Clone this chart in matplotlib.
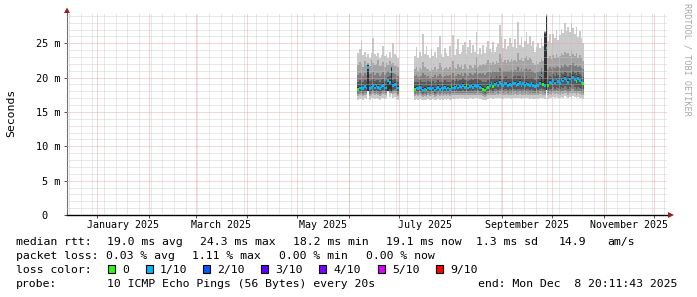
import numpy as np
import matplotlib
matplotlib.use("Agg")
import matplotlib.pyplot as plt
import matplotlib.dates as mdates
from matplotlib.patches import Rectangle, Polygon

W, H = 697, 297
plt.rcParams["font.family"] = "DejaVu Sans Mono"
plt.rcParams["font.size"] = 8.25

# time window of the graph (360 days ending at the "end:" stamp)
t_start = np.datetime64("2024-12-13T20:11:43")
t_end = np.datetime64("2025-12-08T20:11:43")

# two stretches of data, one value per day
seg_starts = ["2025-06-06", "2025-07-10"]
seg_lengths = [25, 102]

# ping quantiles in ms (p1 lowest .. p10 highest), median and lost pings out of 10
p10 = [
    23.6, 24.2, 25.4, 23.3, 23.8, 23.0, 23.5, 22.9, 23.6, 25.8, 23.4, 23.1, 23.6,
    22.8, 23.3, 24.6, 23.2, 23.5, 22.9, 23.7, 22.8, 25.0, 23.4, 23.1, 22.8,
    23.2, 24.4, 22.9, 23.8, 23.1, 26.4, 23.5, 24.6, 23.3, 22.8,
    24.1, 23.1, 23.7, 22.9, 24.5, 26.0, 23.5, 23.0, 24.3, 23.6,
    23.1, 24.6, 22.9, 26.2, 23.3, 24.2, 25.6, 23.4, 23.7, 24.8,
    25.2, 23.5, 24.4, 25.5, 23.6, 24.7, 23.8, 26.6, 23.4, 24.3,
    23.5, 24.8, 23.6, 24.5, 25.4, 24.1, 23.7, 25.2, 23.8, 24.4,
    24.9, 27.6, 25.9, 24.3, 25.6, 24.1, 24.6, 25.8, 25.0, 24.4,
    25.6, 24.3, 28.1, 24.7, 25.9, 24.5, 25.3, 26.6, 24.9, 26.0,
    24.6, 25.4, 23.8, 24.5, 25.1, 24.3, 25.8, 24.6, 26.8, 29.3,
    25.4, 26.3, 25.1, 26.4, 25.8, 26.9, 25.5, 26.2, 27.1, 26.5,
    27.9, 26.8, 27.4, 26.6, 28.0, 27.2, 26.4, 27.3, 25.9, 26.8,
    25.7, 25.0,
]
p9 = [
    21.8, 22.3, 22.0, 21.6, 22.4, 21.9, 22.1, 21.7, 22.5, 22.2, 21.8, 22.0, 22.6,
    21.7, 21.9, 22.3, 21.6, 22.1, 21.8, 22.4, 22.0, 22.2, 21.7, 21.9, 21.5,
    21.2, 21.5, 21.0, 21.4, 21.1, 22.3, 21.6, 21.2, 21.3, 20.9,
    21.4, 21.1, 21.6, 21.0, 21.3, 22.2, 21.5, 21.1, 21.4, 21.6,
    21.3, 21.5, 21.1, 22.4, 21.4, 21.2, 22.0, 21.5, 21.8, 21.3,
    22.0, 21.6, 21.3, 21.9, 21.7, 21.4, 21.9, 23.0, 21.6, 21.8,
    21.7, 22.0, 21.8, 22.1, 22.5, 22.2, 21.9, 22.3, 22.0, 22.4,
    22.2, 23.4, 22.8, 22.3, 22.6, 22.2, 22.5, 22.3, 22.7, 22.4,
    22.6, 22.3, 23.6, 22.5, 22.8, 22.4, 22.9, 23.2, 22.6, 22.8,
    22.5, 22.2, 21.9, 22.4, 22.0, 22.3, 22.7, 22.4, 26.6, 29.1,
    22.8, 23.2, 22.7, 23.3, 22.9, 23.5, 23.0, 23.2, 23.6, 23.3,
    23.8, 23.4, 23.6, 23.2, 23.9, 23.5, 23.1, 23.6, 22.9, 23.3,
    22.8, 22.4,
]
p8 = [
    20.4, 20.6, 20.5, 20.3, 20.7, 20.4, 22.0, 20.5, 20.6, 20.8, 20.4, 20.6, 20.7,
    20.3, 20.5, 20.8, 20.4, 20.6, 20.9, 20.7, 21.6, 20.6, 20.5, 20.4, 20.3,
    20.2, 20.4, 20.1, 20.3, 20.2, 20.6, 20.4, 20.1, 20.3, 20.0,
    20.3, 20.1, 20.4, 20.0, 20.2, 20.5, 20.3, 20.1, 20.3, 20.4,
    20.2, 20.4, 20.1, 20.6, 20.3, 20.2, 20.5, 20.4, 20.6, 20.3,
    20.6, 20.5, 20.3, 20.6, 20.5, 20.4, 20.6, 21.2, 20.5, 20.6,
    20.5, 20.6, 20.4, 20.6, 20.8, 20.8, 20.7, 20.9, 20.8, 21.0,
    20.8, 21.4, 21.1, 20.9, 21.0, 20.9, 21.0, 20.9, 21.1, 21.0,
    21.1, 20.9, 21.6, 21.0, 21.2, 21.0, 21.3, 21.4, 21.1, 21.2,
    21.0, 20.9, 20.7, 21.0, 20.8, 21.0, 21.4, 21.0, 26.6, 29.0,
    21.2, 21.5, 21.3, 21.6, 21.4, 21.7, 21.5, 21.4, 21.8, 21.6,
    22.0, 21.7, 21.6, 21.8, 21.9, 22.1, 21.7, 21.8, 21.6, 21.7,
    21.4, 21.2,
]
p7 = [
    19.4, 19.6, 19.5, 19.4, 19.7, 19.5, 21.9, 19.5, 19.6, 19.8, 19.5, 19.7, 19.6,
    19.4, 19.6, 19.8, 19.5, 19.6, 20.1, 20.2, 21.5, 19.7, 19.8, 19.5, 19.4,
    19.3, 19.4, 19.3, 19.6, 19.4, 19.3, 19.3, 19.1, 19.5, 19.3,
    19.2, 19.5, 19.2, 19.3, 19.6, 19.4, 19.4, 19.3, 19.6, 19.3,
    19.4, 19.3, 19.6, 19.6, 19.5, 19.8, 19.5, 19.6, 19.6, 19.9,
    19.6, 19.7, 19.5, 19.7, 19.8, 19.6, 19.8, 19.9, 19.8, 19.6,
    19.5, 19.4, 19.3, 19.4, 19.7, 19.9, 20.1, 19.8, 20.0, 20.2,
    19.9, 20.3, 20.1, 19.8, 20.1, 20.2, 19.9, 20.0, 19.9, 20.1,
    20.2, 19.9, 20.2, 20.3, 19.9, 20.1, 20.0, 20.2, 20.0, 19.9,
    20.1, 19.9, 19.7, 20.0, 19.8, 20.2, 20.9, 20.0, 26.5, 29.0,
    19.9, 20.3, 20.1, 20.5, 20.2, 20.7, 20.4, 20.1, 20.6, 20.5,
    20.8, 20.6, 20.3, 20.7, 20.5, 21.0, 20.6, 20.4, 20.8, 20.5,
    20.3, 20.1,
]
p6 = [
    18.6, 18.8, 18.9, 18.7, 19.0, 18.8, 21.8, 18.7, 18.9, 19.1, 18.8, 19.2, 18.9,
    18.7, 19.0, 19.2, 18.8, 18.9, 19.9, 19.6, 21.4, 19.2, 19.3, 18.9, 18.8,
    18.6, 18.8, 18.7, 18.9, 18.7, 18.5, 18.6, 18.5, 18.8, 18.7,
    18.6, 18.8, 18.5, 18.7, 18.9, 18.6, 18.8, 18.7, 18.9, 18.6,
    18.8, 18.6, 19.0, 18.8, 18.9, 19.1, 18.8, 19.0, 18.9, 19.2,
    18.9, 19.1, 18.8, 19.0, 19.2, 18.9, 19.1, 19.0, 19.2, 18.9,
    18.8, 18.6, 18.5, 18.7, 18.9, 19.2, 19.4, 19.0, 19.3, 19.5,
    19.2, 19.6, 19.3, 19.1, 19.4, 19.5, 19.2, 19.3, 19.1, 19.4,
    19.5, 19.2, 19.3, 19.6, 19.1, 19.4, 19.2, 19.5, 19.3, 19.1,
    19.4, 19.2, 19.0, 19.3, 19.1, 19.5, 20.6, 19.3, 26.4, 29.0,
    19.2, 19.6, 19.4, 19.9, 19.5, 20.1, 19.7, 19.4, 20.0, 19.8,
    20.2, 19.9, 19.6, 20.1, 19.8, 20.4, 20.0, 19.7, 20.2, 19.9,
    19.6, 19.4,
]
p5 = [
    18.1, 18.3, 18.4, 18.2, 18.5, 18.3, 18.0, 18.2, 18.4, 18.6, 18.3, 18.7, 18.4,
    18.2, 18.5, 18.7, 18.3, 18.4, 18.1, 18.3, 18.1, 18.7, 18.8, 18.4, 18.3,
    18.1, 18.3, 18.2, 18.4, 18.2, 18.0, 18.1, 18.0, 18.3, 18.2,
    18.1, 18.3, 18.0, 18.2, 18.4, 18.1, 18.3, 18.2, 18.4, 18.1,
    18.3, 18.1, 18.5, 18.3, 18.4, 18.6, 18.3, 18.5, 18.4, 18.7,
    18.4, 18.6, 18.3, 18.5, 18.7, 18.4, 18.6, 18.5, 18.7, 18.4,
    18.3, 18.1, 18.0, 18.2, 18.4, 18.7, 18.9, 18.5, 18.8, 19.0,
    18.7, 19.1, 18.8, 18.6, 18.9, 19.0, 18.7, 18.8, 18.6, 18.9,
    19.0, 18.7, 18.8, 19.1, 18.6, 18.9, 18.7, 19.0, 18.8, 18.6,
    18.9, 18.7, 18.5, 18.8, 18.6, 19.0, 19.2, 18.8, 18.6, 18.2,
    18.7, 19.1, 18.9, 19.4, 19.0, 19.6, 19.2, 18.9, 19.5, 19.3,
    19.7, 19.4, 19.1, 19.6, 19.3, 19.9, 19.5, 19.2, 19.7, 19.4,
    19.1, 18.9,
]
p4 = [
    17.9, 18.0, 18.1, 17.9, 18.1, 18.0, 18.0, 17.9, 18.1, 18.2, 18.0, 18.2, 18.0,
    17.9, 18.1, 18.2, 18.0, 18.1, 18.1, 18.1, 17.9, 18.2, 18.3, 18.0, 17.9,
    17.9, 18.0, 17.9, 18.1, 17.9, 17.8, 17.9, 17.8, 18.0, 17.9,
    17.9, 18.0, 17.8, 17.9, 18.1, 17.9, 18.0, 17.9, 18.1, 17.9,
    18.0, 17.9, 18.1, 18.0, 18.1, 18.2, 18.0, 18.1, 18.1, 18.2,
    18.1, 18.2, 18.0, 18.1, 18.2, 18.1, 18.2, 18.1, 18.2, 18.1,
    18.0, 17.9, 17.8, 17.9, 18.1, 18.2, 18.3, 18.1, 18.3, 18.4,
    18.2, 18.4, 18.3, 18.2, 18.3, 18.4, 18.2, 18.3, 18.2, 18.3,
    18.4, 18.2, 18.3, 18.4, 18.2, 18.3, 18.2, 18.4, 18.3, 18.2,
    18.3, 18.2, 18.1, 18.3, 18.2, 18.4, 18.5, 18.3, 18.2, 18.2,
    18.2, 18.4, 18.3, 18.6, 18.4, 18.7, 18.5, 18.3, 18.6, 18.5,
    18.8, 18.6, 18.4, 18.7, 18.5, 18.9, 18.6, 18.4, 18.7, 18.5,
    18.4, 18.3,
]
p3 = [
    17.6, 17.7, 17.8, 17.6, 17.8, 17.7, 18.0, 17.6, 17.8, 17.9, 17.7, 17.9, 17.7,
    17.6, 17.8, 17.9, 17.7, 17.8, 18.1, 17.9, 17.8, 17.9, 18.0, 17.7, 17.6,
    17.6, 17.7, 17.6, 17.7, 17.6, 17.5, 17.6, 17.5, 17.7, 17.6,
    17.6, 17.7, 17.5, 17.6, 17.7, 17.6, 17.7, 17.6, 17.7, 17.6,
    17.7, 17.6, 17.8, 17.7, 17.7, 17.8, 17.7, 17.8, 17.7, 17.8,
    17.7, 17.8, 17.7, 17.8, 17.8, 17.7, 17.8, 17.8, 17.9, 17.7,
    17.7, 17.6, 17.5, 17.6, 17.7, 17.8, 17.9, 17.8, 17.9, 18.0,
    17.8, 18.0, 17.9, 17.8, 17.9, 18.0, 17.8, 17.9, 17.8, 17.9,
    18.0, 17.8, 17.9, 18.0, 17.8, 17.9, 17.8, 18.0, 17.9, 17.8,
    17.9, 17.8, 17.7, 17.9, 17.8, 18.0, 18.0, 17.9, 17.8, 18.2,
    17.8, 18.0, 17.9, 18.1, 18.0, 18.2, 18.0, 17.9, 18.1, 18.0,
    18.2, 18.1, 17.9, 18.1, 18.0, 18.3, 18.1, 17.9, 18.1, 18.0,
    17.9, 17.8,
]
p2 = [
    17.3, 17.4, 17.5, 17.3, 17.5, 17.4, 18.0, 17.3, 17.5, 17.6, 17.4, 17.6, 17.4,
    17.3, 17.5, 17.6, 17.4, 17.5, 18.1, 17.7, 17.7, 17.6, 17.7, 17.4, 17.3,
    17.3, 17.4, 17.3, 17.4, 17.3, 17.2, 17.3, 17.2, 17.4, 17.3,
    17.3, 17.4, 17.2, 17.3, 17.4, 17.3, 17.4, 17.3, 17.4, 17.3,
    17.4, 17.3, 17.4, 17.4, 17.4, 17.5, 17.4, 17.5, 17.4, 17.5,
    17.4, 17.5, 17.4, 17.5, 17.5, 17.4, 17.5, 17.5, 17.5, 17.4,
    17.4, 17.3, 17.2, 17.3, 17.4, 17.5, 17.5, 17.4, 17.5, 17.6,
    17.5, 17.6, 17.5, 17.4, 17.5, 17.6, 17.5, 17.5, 17.4, 17.5,
    17.6, 17.5, 17.5, 17.6, 17.4, 17.5, 17.5, 17.6, 17.5, 17.4,
    17.5, 17.4, 17.4, 17.5, 17.4, 17.6, 17.6, 17.5, 17.4, 18.2,
    17.4, 17.6, 17.5, 17.7, 17.6, 17.7, 17.6, 17.5, 17.7, 17.6,
    17.8, 17.7, 17.5, 17.7, 17.6, 17.8, 17.7, 17.5, 17.7, 17.6,
    17.5, 17.4,
]
p1 = [
    16.8, 16.9, 17.0, 16.8, 17.0, 16.9, 18.0, 16.8, 17.0, 17.1, 16.9, 17.1, 16.9,
    16.8, 17.0, 17.1, 16.9, 17.0, 18.1, 17.2, 17.6, 17.1, 17.2, 16.9, 16.8,
    16.8, 16.9, 16.8, 16.9, 16.8, 16.7, 16.8, 16.7, 16.9, 16.8,
    16.8, 16.9, 16.7, 16.8, 16.9, 16.8, 16.9, 16.8, 16.9, 16.8,
    16.9, 16.8, 16.9, 16.9, 16.9, 17.0, 16.9, 17.0, 16.9, 17.0,
    16.9, 17.0, 16.9, 17.0, 17.0, 16.9, 17.0, 17.0, 17.0, 16.9,
    16.9, 16.8, 16.7, 16.8, 16.9, 17.0, 17.0, 16.9, 17.0, 17.1,
    17.0, 17.1, 17.0, 16.9, 17.0, 17.1, 17.0, 17.0, 16.9, 17.0,
    17.1, 17.0, 17.0, 17.1, 16.9, 17.0, 17.0, 17.1, 17.0, 16.9,
    17.0, 16.9, 16.9, 17.0, 16.9, 17.1, 17.1, 17.0, 16.9, 18.2,
    16.9, 17.1, 17.0, 17.2, 17.1, 17.2, 17.1, 17.0, 17.2, 17.1,
    17.3, 17.2, 17.0, 17.2, 17.1, 17.3, 17.2, 17.0, 17.2, 17.1,
    17.0, 16.9,
]
rtt_median = [
    18.3, 18.5, 18.6, 18.4, 18.7, 18.5, 21.5, 18.4, 18.6, 18.8, 18.5, 18.9, 18.6,
    18.4, 18.7, 18.9, 18.5, 18.6, 19.6, 19.3, 20.8, 18.9, 19.0, 18.6, 18.5,
    18.3, 18.5, 18.4, 18.6, 18.4, 18.2, 18.3, 18.2, 18.5, 18.4,
    18.3, 18.5, 18.2, 18.4, 18.6, 18.3, 18.5, 18.4, 18.6, 18.3,
    18.5, 18.3, 18.7, 18.5, 18.6, 18.8, 18.5, 18.7, 18.6, 18.9,
    18.6, 18.8, 18.5, 18.7, 18.9, 18.6, 18.8, 18.7, 18.9, 18.6,
    18.5, 18.3, 18.2, 18.4, 18.6, 18.9, 19.1, 18.7, 19.0, 19.2,
    18.9, 19.3, 19.0, 18.8, 19.1, 19.2, 18.9, 19.0, 18.8, 19.1,
    19.2, 18.9, 19.0, 19.3, 18.8, 19.1, 18.9, 19.2, 19.0, 18.8,
    19.1, 18.9, 18.7, 19.0, 18.8, 19.2, 20.3, 19.0, 18.9, 24.3,
    18.9, 19.3, 19.1, 19.6, 19.2, 19.8, 19.4, 19.1, 19.7, 19.5,
    19.9, 19.6, 19.3, 19.8, 19.5, 20.1, 19.7, 19.4, 19.9, 19.6,
    19.3, 19.1,
]
lost = [
    0, 1, 1, 1, 1, 1, 1, 1, 1, 1, 1, 1, 1, 1, 1, 1, 1, 1, 1, 1, 1, 1, 1, 1, 1,
    0, 1, 1, 1, 1, 1, 1, 0, 1, 1,
    1, 1, 1, 1, 1, 1, 1, 1, 1, 1,
    1, 1, 0, 1, 1, 1, 1, 1, 1, 1,
    1, 0, 1, 1, 1, 1, 1, 1, 1, 1,
    1, 0, 0, 1, 0, 1, 1, 0, 1, 1,
    1, 1, 1, 1, 1, 1, 1, 1, 1, 1,
    1, 1, 1, 1, 1, 1, 1, 1, 1, 1,
    1, 1, 1, 1, 1, 1, 1, 0, 1, 1,
    0, 1, 1, 1, 1, 1, 1, 1, 1, 1,
    1, 1, 1, 1, 1, 1, 1, 0, 1, 1,
    1, 0,
]

loss_keys = [0, 1, 2, 3, 4, 5, 9]
loss_labels = ["0", "1/10", "2/10", "3/10", "4/10", "5/10", "9/10"]
loss_colors = ["#26ff00", "#00b8ff", "#0059ff", "#5e00ff", "#7e00ff", "#dd00ff", "#ff0000"]

month_labels = ["January 2025", "March 2025", "May 2025", "July 2025",
                "September 2025", "November 2025"]
y_ticks = [0, 5, 10, 15, 20, 25]
y_labels = ["0  ", "5 m", "10 m", "15 m", "20 m", "25 m"]

legend_rtt = [("median rtt:", 16), ("19.0 ms avg", 107), ("24.3 ms max", 200),
              ("18.2 ms min", 293), ("19.1 ms now", 386), ("1.3 ms sd", 476),
              ("14.9", 559), ("am/s", 607.7)]
legend_loss = [("packet loss:", 16), ("0.03 % avg", 106), ("1.11 % max", 192.5),
               ("0.00 % min", 279), ("0.00 % now", 365.7)]
legend_probe = [("probe:", 16), ("10 ICMP Echo Pings (56 Bytes) every 20s", 107),
                ("end: Mon Dec  8 20:11:43 2025", 478)]
box_x = [108, 146, 203, 261, 319, 378, 436]


def fx(px):
    return px / W


def fy(py):
    return 1 - py / H


days = np.concatenate([np.arange(np.datetime64(s), np.datetime64(s) + np.timedelta64(n, "D"))
                       for s, n in zip(seg_starts, seg_lengths)])
x = mdates.date2num(days)

fig = plt.figure(figsize=(W / 100, H / 100), dpi=100)
fig.patch.set_facecolor("white")
ax = fig.add_axes([fx(67), fy(215), 600 / W, (215 - 12.7) / H])
ax.set_xlim(mdates.date2num(t_start), mdates.date2num(t_end))
ax.set_ylim(0, 29.45)

# smoke: nested bands p1-p10, p2-p9 ... p5-p6, darker towards the centre
ping = [np.array(p) for p in (p1, p2, p3, p4, p5, p6, p7, p8, p9, p10)]
for k in range(5):
    lo, hi = ping[k], ping[9 - k]
    g = int(190 / 5 * (4 - k)) + 50
    ax.bar(x, hi - lo, bottom=lo, width=1.0, align="edge",
           color="#%02x%02x%02x" % (g, g, g), linewidth=0, antialiased=False, zorder=2)

# grid (dotted, on top of the smoke like rrdtool)
dots = (0, (1, 1))
minor_kw = dict(color="#c2c2c2", lw=0.72, ls=dots, zorder=3, alpha=0.75)
major_kw = dict(color="#e6a0a0", lw=0.72, ls=dots, zorder=3, alpha=0.85)
for v in range(1, 30):
    ax.axhline(v, **(major_kw if v % 5 == 0 else minor_kw))
sundays = np.arange(np.datetime64("2024-12-15"), np.datetime64("2025-12-08"), np.timedelta64(7, "D"))
for d in sundays:
    ax.axvline(mdates.date2num(d), **minor_kw)
month_starts = np.arange(np.datetime64("2025-01"), np.datetime64("2026-01"), np.timedelta64(1, "M"))
month_x = mdates.date2num(month_starts.astype("datetime64[D]"))
for m in month_x:
    ax.axvline(m, **major_kw)

# median, coloured by packet loss
med = np.array(rtt_median)
med_cols = [loss_colors[loss_keys.index(l)] for l in lost]
ax.bar(x, 0.4, bottom=med - 0.2, width=1.0, align="edge", color=med_cols,
       linewidth=0, antialiased=False, zorder=4)

# axes
for s in ("top", "right"):
    ax.spines[s].set_visible(False)
ax.spines["bottom"].set_color("black")
ax.spines["bottom"].set_linewidth(1.0)
ax.spines["left"].set_color("#707070")
ax.spines["left"].set_linewidth(0.8)
ax.set_yticks(y_ticks)
ax.set_yticklabels(y_labels)
ax.tick_params(axis="y", length=2, width=0.7, pad=3, color="#505050", labelsize=7.4)

ax.set_xticks(month_x)
ax.set_xticklabels([])
ax.tick_params(axis="x", which="major", length=2.5, width=0.7, color="#505050")
label_months = np.arange(np.datetime64("2025-01"), np.datetime64("2026-01"), np.timedelta64(2, "M"))
mid = [(mdates.date2num(m.astype("datetime64[D]")) +
        mdates.date2num((m + np.timedelta64(1, "M")).astype("datetime64[D]"))) / 2 for m in label_months]
ax.set_xticks(mid, minor=True)
ax.set_xticklabels(month_labels, minor=True)
ax.tick_params(axis="x", which="minor", length=0, pad=3.5, labelsize=7.2)

# axis arrows
arrow_col = "#9a2020"
fig.patches.append(Polygon([(fx(67), fy(7.5)), (fx(64), fy(13)), (fx(70), fy(13))],
                           closed=True, transform=fig.transFigure, color=arrow_col, lw=0))
fig.patches.append(Polygon([(fx(674), fy(215)), (fx(668), fy(212)), (fx(668), fy(218))],
                           closed=True, transform=fig.transFigure, color=arrow_col, lw=0))

fig.text(fx(11), fy(113), "Seconds", rotation=90, ha="center", va="center")
fig.text(fx(687), fy(59), "RRDTOOL / TOBI OETIKER", rotation=270, ha="center",
         va="center", fontsize=6.1, color="#a8a8a8")

# legend rows
for items, base in ((legend_rtt, 245.3), (legend_loss, 259.3), (legend_probe, 287.3)):
    for txt, px in items:
        fig.text(fx(px), fy(base), txt, ha="left", va="baseline")
fig.text(fx(16), fy(273.3), "loss color:", ha="left", va="baseline")
for bx, lab, col in zip(box_x, loss_labels, loss_colors):
    fig.patches.append(Rectangle((fx(bx), fy(273)), 7 / W, 8 / H, transform=fig.transFigure,
                                 facecolor=col, edgecolor="black", lw=0.8))
    fig.text(fx(bx + 14), fy(273.3), lab, ha="left", va="baseline")

fig.savefig("out.png", dpi=100, facecolor="white")
